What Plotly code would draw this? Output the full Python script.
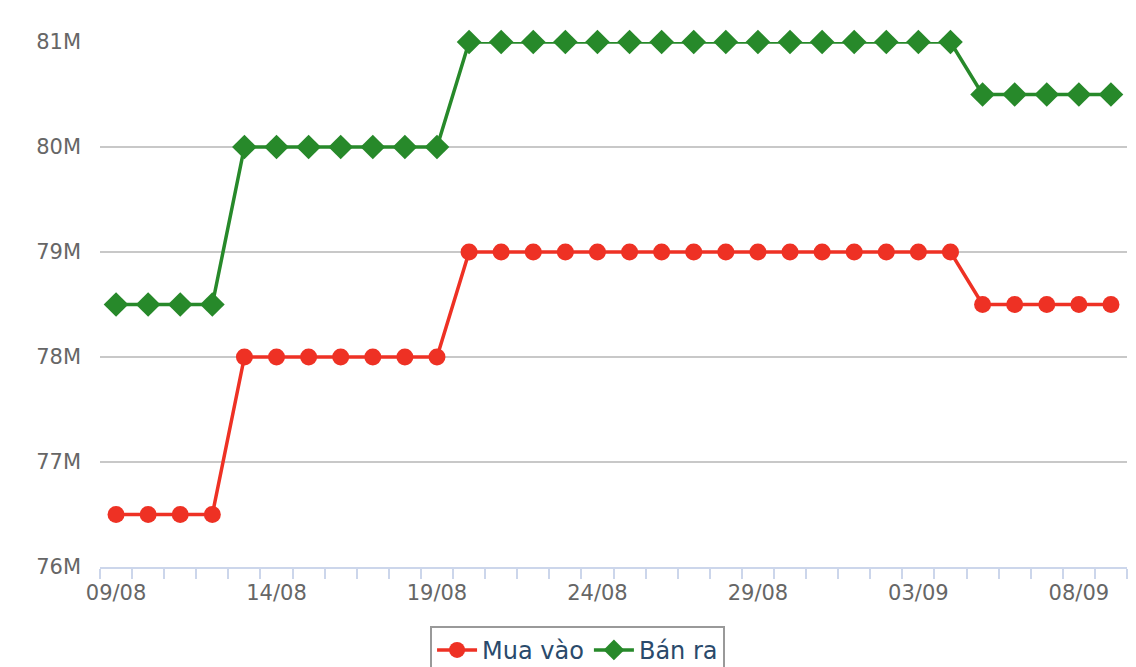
import plotly.graph_objects as go

# gold price data, daily, 09/08 -> 09/09
dates = ["09/08", "10/08", "11/08", "12/08", "13/08", "14/08", "15/08", "16/08",
         "17/08", "18/08", "19/08", "20/08", "21/08", "22/08", "23/08", "24/08",
         "25/08", "26/08", "27/08", "28/08", "29/08", "30/08", "31/08", "01/09",
         "02/09", "03/09", "04/09", "05/09", "06/09", "07/09", "08/09", "09/09"]

mua_vao = [76.5, 76.5, 76.5, 76.5, 78, 78, 78, 78, 78, 78, 78,
           79, 79, 79, 79, 79, 79, 79, 79, 79, 79, 79, 79, 79, 79, 79, 79,
           78.5, 78.5, 78.5, 78.5, 78.5]
ban_ra = [78.5, 78.5, 78.5, 78.5, 80, 80, 80, 80, 80, 80, 80,
          81, 81, 81, 81, 81, 81, 81, 81, 81, 81, 81, 81, 81, 81, 81, 81,
          80.5, 80.5, 80.5, 80.5, 80.5]

y_ticks = [76, 77, 78, 79, 80, 81]
y_labels = ["76M", "77M", "78M", "79M", "80M", "81M"]

idx = list(range(len(dates)))
label_idx = idx[::5]

fig = go.Figure()
fig.add_trace(go.Scatter(
    x=idx, y=mua_vao, name="Mua vào", mode="lines+markers",
    line=dict(color="#ee3124", width=3.5),
    marker=dict(symbol="circle", size=17, color="#ee3124"),
    cliponaxis=False,
))
fig.add_trace(go.Scatter(
    x=idx, y=ban_ra, name="Bán ra", mode="lines+markers",
    line=dict(color="#27892a", width=3.5),
    marker=dict(symbol="diamond", size=19, color="#27892a"),
    cliponaxis=False,
))

# page body adds 8px, so figure is a bit smaller than the window
fig.update_layout(
    width=1128, height=659,
    margin=dict(l=92, r=9, t=34, b=100, autoexpand=False),
    plot_bgcolor="white", paper_bgcolor="white",
    font=dict(family="DejaVu Sans", color="#666666", size=20),
    showlegend=True,
    legend=dict(
        orientation="h", x=0.465, xanchor="center", y=-0.112, yanchor="top",
        bordercolor="#999999", borderwidth=2,
        font=dict(size=24, color="#2a4a6b"),
        itemwidth=40,
    ),
)
fig.update_xaxes(
    range=[-0.5, len(dates) - 0.5], automargin=False,
    tickvals=label_idx, ticktext=[dates[i] for i in label_idx],
    ticks="", showgrid=False, zeroline=False,
    showline=True, linecolor="#ccd6eb", linewidth=2,
    ticklabelstandoff=6,
    tickfont=dict(size=21, color="#666666"),
    minor=dict(tickvals=[i - 0.5 for i in range(len(dates) + 1)],
               ticks="outside", ticklen=10, tickcolor="#ccd6eb", tickwidth=2,
               showgrid=False),
)
fig.update_yaxes(
    range=[76, 81], automargin=False,
    tickvals=y_ticks, ticktext=y_labels,
    showgrid=True, gridcolor="#c8c8c8", gridwidth=2,
    zeroline=False, showline=False, ticks="", ticklabelstandoff=18,
    tickfont=dict(size=21, color="#666666"),
)

fig.write_html("out.html")
